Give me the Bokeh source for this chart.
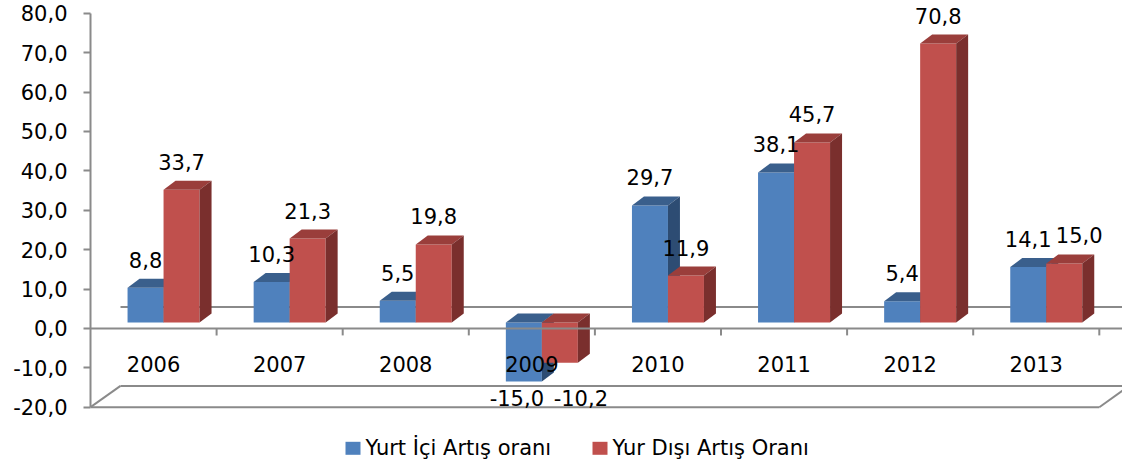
from bokeh.plotting import figure
from bokeh.models import Range1d, FixedTicker, CustomJSTickFormatter
from bokeh.embed import file_html
from bokeh.resources import INLINE
from bokeh.core.properties import value

# ---------------- data ----------------
YEARS = ["2006", "2007", "2008", "2009", "2010", "2011", "2012", "2013"]
YURT_ICI = [8.8, 10.3, 5.5, -15.0, 29.7, 38.1, 5.4, 14.1]
YUR_DISI = [33.7, 21.3, 19.8, -10.2, 11.9, 45.7, 70.8, 15.0]
SERIES_NAMES = ["Yurt İçi Artış oranı", "Yur Dışı Artış Oranı"]
Y_TICKS = [-20, -10, 0, 10, 20, 30, 40, 50, 60, 70, 80]

# ---------------- layout / style ----------------
W, H = 1122, 465
LEFT = 90
PX_CAT = 126.1          # pixels per category
PX_VAL = 3.94           # pixels per value unit
ZERO_FROM_TOP = 327.9   # pixel row of value 0 inside the figure


def ux(px):
    return px / PX_CAT


def uy(px):
    return px / PX_VAL


FONT = "DejaVu Sans"
FS = "21px"
GRAY = "#8a8a8a"
COLORS = [
    dict(front="#4F81BD", top="#3A5F8C", side="#2D4C73"),
    dict(front="#C0504D", top="#9A3E3B", side="#7A2F2D"),
]

x_end = (W - LEFT) / PX_CAT
y_top = uy(ZERO_FROM_TOP)
y_bot = -uy(H - ZERO_FROM_TOP)

p = figure(width=W, height=H, x_range=Range1d(0, x_end), y_range=Range1d(y_bot, y_top),
           output_backend="svg", toolbar_location=None, x_axis_location=None,
           min_border_left=LEFT, min_border_right=0, min_border_top=0, min_border_bottom=0)
p.grid.visible = False
p.outline_line_color = None
p.background_fill_color = "white"
p.border_fill_color = "white"

# y axis
ya = p.yaxis[0]
ya.ticker = FixedTicker(ticks=Y_TICKS)
ya.formatter = CustomJSTickFormatter(code="return tick.toFixed(1).replace('.', ',');")
ya.bounds = (Y_TICKS[0], Y_TICKS[-1])
ya.axis_line_color = GRAY
ya.axis_line_width = 2
ya.major_tick_line_color = GRAY
ya.major_tick_line_width = 2
ya.major_tick_in = 0
ya.major_tick_out = 7
ya.minor_tick_line_color = None
ya.major_label_standoff = 16
ya.major_label_text_font = FONT
ya.major_label_text_font_size = FS
ya.major_label_text_color = "black"

n = len(YEARS)
FLOOR_DX, FLOOR_DY = ux(30), uy(21.3)
ymin = Y_TICKS[0]

# back lines of the 3D planes (behind bars)
p.segment(x0=[FLOOR_DX, FLOOR_DX], y0=[FLOOR_DY, ymin + FLOOR_DY],
          x1=[x_end, x_end], y1=[FLOOR_DY, ymin + FLOOR_DY],
          line_color=GRAY, line_width=2)
# lower floor front + diagonals
p.segment(x0=[0, 0, n], y0=[ymin, ymin, ymin],
          x1=[n, FLOOR_DX, n + FLOOR_DX], y1=[ymin, ymin + FLOOR_DY, ymin + FLOOR_DY],
          line_color=GRAY, line_width=2)

# ---------------- 3D bars ----------------
BASE = uy(5.9)
SHIFT = ux(10)
BW = ux(36)
DX, DY = ux(12), uy(9)

for s, vals in enumerate([YURT_ICI, YUR_DISI]):
    xs0, tops, bots = [], [], []
    top_xs, top_ys, side_xs, side_ys = [], [], [], []
    for k, v in enumerate(vals):
        x0 = k + 0.5 + SHIFT - BW + s * BW
        x1 = x0 + BW
        t = BASE + max(v, 0)
        b = BASE + min(v, 0)
        xs0.append((x0 + x1) / 2)
        tops.append(t)
        bots.append(b)
        top_xs.append([x0, x1, x1 + DX, x0 + DX])
        top_ys.append([t, t, t + DY, t + DY])
        side_xs.append([x1, x1 + DX, x1 + DX, x1])
        side_ys.append([b, b + DY, t + DY, t])
    c = COLORS[s]
    p.vbar(x=xs0, width=BW, top=tops, bottom=bots, fill_color=c["front"], line_color=None)
    p.patches(xs=top_xs, ys=top_ys, fill_color=c["top"], line_color=None)
    p.patches(xs=side_xs, ys=side_ys, fill_color=c["side"], line_color=None)

# front axis line and category ticks (drawn over bars)
p.segment(x0=[0], y0=[0], x1=[x_end], y1=[0], line_color=GRAY, line_width=2)
p.segment(x0=list(range(1, n + 1)), y0=[0] * n, x1=list(range(1, n + 1)), y1=[-uy(7)] * n,
          line_color=GRAY, line_width=2)

# category labels
p.text(x=[k + 0.5 for k in range(n)], y=[-uy(35.1)] * n, text=YEARS,
       text_font=value(FONT), text_font_size=value(FS), text_color="black",
       text_align="center", text_baseline="middle")

# value labels
NUDGE_PX = {(3, 0): -7, (3, 1): 21, (7, 1): 15}
lx, ly, lt = [], [], []
for s, vals in enumerate([YURT_ICI, YUR_DISI]):
    for k, v in enumerate(vals):
        x0 = k + 0.5 + SHIFT - BW + s * BW
        cx = x0 + BW / 2 + ux(NUDGE_PX.get((k, s), 0))
        if v >= 0:
            y = BASE + v + uy(28)
        else:
            y = BASE + min(YURT_ICI[k], YUR_DISI[k]) - uy(16)
        lx.append(cx)
        ly.append(y)
        lt.append(f"{v:.1f}".replace(".", ","))
p.text(x=lx, y=ly, text=lt, text_font=value(FONT), text_font_size=value(FS),
       text_color="black", text_align="center", text_baseline="middle")

# legend
LEG_Y = -uy(447.8 - ZERO_FROM_TOP)
sq_x = [ux(352.5 - LEFT), ux(599.5 - LEFT)]
tx_x = [ux(365 - LEFT), ux(612 - LEFT)]
p.rect(x=sq_x, y=[LEG_Y, LEG_Y], width=15, height=13, width_units="screen", height_units="screen",
       fill_color=[COLORS[0]["front"], COLORS[1]["front"]], line_color=None)
p.text(x=tx_x, y=[LEG_Y, LEG_Y], text=SERIES_NAMES, text_font=value(FONT), text_font_size=value(FS),
       text_color="black", text_align="left", text_baseline="middle")

open("out.html", "w").write(file_html(p, INLINE))
